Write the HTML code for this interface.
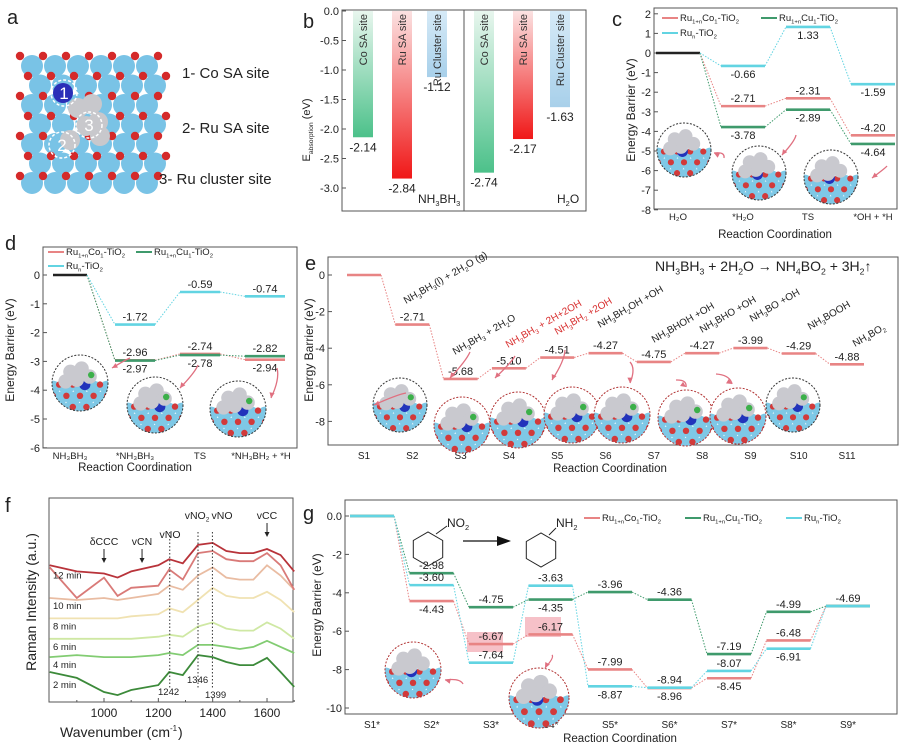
<!DOCTYPE html>
<html><head><meta charset="utf-8">
<style>
html,body{margin:0;padding:0;background:#fff;}
svg{display:block;font-family:"Liberation Sans",Arial,sans-serif;}
</style></head>
<body>
<svg id="fig" width="905" height="743" viewBox="0 0 905 743" xmlns="http://www.w3.org/2000/svg">
<defs></defs>
<g id="pa"></g>
<g id="pb"></g>
<g id="pc"></g>
<g id="pd"></g>
<g id="pe"></g>
<g id="pf"></g>
<g id="pg"></g>
</svg>
<script>
// ---------- DATA ----------
// panel b
const bSites = ["Co SA site","Ru SA site","Ru Cluster site"];
const bNH3BH3 = [-2.14,-2.84,-1.12];
const bH2O = [-2.74,-2.17,-1.63];
const bTicks = [0,-0.5,-1.0,-1.5,-2.0,-2.5,-3.0];
// panel c
const cCats = ["H\u2082O","*H\u2082O","TS","*OH + *H"];
const cCo = [-2.71,-2.31,-4.20];
const cCu = [-3.78,-2.89,-4.64];
const cRu = [-0.66,1.33,-1.59];
const cTicks = [2,1,0,-1,-2,-3,-4,-5,-6,-7,-8];
// panel d
const dCats = ["NH\u2083BH\u2083","*NH\u2083BH\u2083","TS","*NH\u2083BH\u2082 + *H"];
const dCo = [-2.96,-2.74,-2.94];
const dCu = [-2.97,-2.78,-2.82];
const dRu = [-1.72,-0.59,-0.74];
const dTicks = [0,-1,-2,-3,-4,-5,-6];
// panel e
const eCats = ["S1","S2","S3","S4","S5","S6","S7","S8","S9","S10","S11"];
const eVals = [0,-2.71,-5.68,-5.10,-4.51,-4.27,-4.75,-4.27,-3.99,-4.29,-4.88];
const eTicks = [0,-2,-4,-6,-8];
// panel f
const fWave = [800,900,1000,1050,1100,1200,1240,1290,1346,1400,1450,1500,1550,1600,1650,1700];
const f2 = [14.7,11.8,4.9,3.4,5.9,8.3,14.7,13.2,23,22,19.6,18.1,18.1,21.6,14.7,7.4];
const f4 = [22,23,22,22,22,23,24,23,28,28,27,26,27,30,27,24];
const f6 = [31,31,31,31,31,32,33,32,37,39,36,35,35,39,36,31];
const f8 = [41,41,41,41,42,43,46,44,50,56,52,51,51,54,50,44];
const f10 = [51,50,51,50,51,53,57,55,62,66,61,60,60,67,62,55];
const f12 = [66,51,61,52,56,57,65,60,73,74,70,69,69,73,67,55];
const f14 = [67,64,63,61,64,67,70,68,77,78,74,73,73,75,72,64];
const fTimes = ["2 min","4 min","6 min","8 min","10 min","12 min",""];
const fXTicks = [1000,1200,1400,1600];
// panel g
const gCats = ["S1*","S2*","S3*","S4*","S5*","S6*","S7*","S8*","S9*"];
const gCo = [0,-4.43,-6.67,-6.17,-7.99,-8.96,-8.45,-6.48,-4.69];
const gCu = [0,-2.98,-4.75,-4.35,-3.96,-4.36,-7.19,-4.99,-4.69];
const gRu = [0,-3.60,-7.64,-3.63,-8.87,-8.94,-8.07,-6.91,-4.69];
const gTicks = [0,-2,-4,-6,-8,-10];

// ---------- HELPERS ----------
const NS="http://www.w3.org/2000/svg";
function mk(parent,tag,attrs){const e=document.createElementNS(NS,tag);for(const k in attrs)e.setAttribute(k,attrs[k]);parent.appendChild(e);return e;}
function txt(parent,x,y,s,size,opts){opts=opts||{};
  const t=mk(parent,"text",{x:x,y:y,"font-size":size,fill:opts.fill||"#222","text-anchor":opts.anchor||"start"});
  if(opts.rot!==undefined)t.setAttribute("transform","rotate("+opts.rot+" "+x+" "+y+")");
  const parts=s.split(/(_\{[^}]*\})/);
  let sub=false;
  parts.forEach(p=>{if(!p)return;
    if(p.startsWith("_{")){const ts=mk(t,"tspan",{"font-size":size*0.62,dy:size*0.25});ts.textContent=p.slice(2,-1);sub=true;}
    else{const ts=mk(t,"tspan",sub?{dy:-size*0.25}:{});ts.textContent=p;sub=false;}
  });
  return t;}
const COL={co:"#e88484",cu:"#3f9a6c",ru:"#62d4e2",blk:"#222"};
let clipId=0;
function inset(parent,cx,cy,r,border,kind){
  const g=mk(parent,"g",{});
  
  
  const id="cl"+(clipId++);
  const cp=mk(document.querySelector("defs"),"clipPath",{id:id});
  mk(cp,"circle",{cx:cx,cy:cy,r:r});
  const inner=mk(g,"g",{"clip-path":"url(#"+id+")"});
  mk(inner,"rect",{x:cx-r,y:cy-r,width:2*r,height:2*r,fill:"#fff"});
  const s=r/35;
  for(let row=0;row<3;row++)for(let col=-3;col<=3;col++){
    mk(inner,"circle",{cx:cx+col*17*s+(row%2)*8*s,cy:cy+6*s+row*14*s,r:9*s,fill:"#7ec8e6"});
  }
  for(let row=0;row<3;row++)for(let col=-3;col<=3;col++){
    mk(inner,"circle",{cx:cx+col*17*s+(row%2?0:8*s),cy:cy+2*s+row*14*s,r:4*s,fill:"#d23a3a"});
  }
  mk(inner,"circle",{cx:cx-2*s+(kind%2?8*s:0),cy:cy+2*s,r:7*s,fill:"#2233bb"});
  const gp=[[-12,-14],[2,-18],[-4,-4],[12,-8],[-18,-2]];
  gp.forEach(p=>mk(inner,"circle",{cx:cx+p[0]*s,cy:cy+p[1]*s,r:9*s,fill:"#c9c9cf"}));
  if(kind>0)mk(inner,"circle",{cx:cx+(kind%3?14:-6)*s,cy:cy-10*s,r:4*s,fill:"#3cb04a"});
  mk(g,"circle",{cx:cx,cy:cy,r:r,fill:"none",stroke:border,"stroke-width":1,"stroke-dasharray":"2,1.5"});
  return g;}
function arrowLine(parent,x1,y1,x2,y2,col){
  mk(parent,"path",{d:"M"+x1+","+y1+" Q"+((x1+x2)/2+6)+","+((y1+y2)/2-4)+" "+x2+","+y2,stroke:col,"stroke-width":1.3,fill:"none"});
  const a=Math.atan2(y2-y1,x2-x1);
  const p1=[x2-6*Math.cos(a-0.45),y2-6*Math.sin(a-0.45)],p2=[x2-6*Math.cos(a+0.45),y2-6*Math.sin(a+0.45)];
  mk(parent,"path",{d:"M"+x2+","+y2+" L"+p1+" L"+p2+"Z",fill:col});
}
function box(parent,x,y,w,h){mk(parent,"rect",{x:x,y:y,width:w,height:h,fill:"none",stroke:"#555","stroke-width":1});}
function yAxis(parent,x,ticks,ys,fmt,size){
  ticks.forEach(t=>{const y=ys(t);mk(parent,"line",{x1:x,y1:y,x2:x+4,y2:y,stroke:"#555"});
    const tl=txt(parent,x-3,y+4,fmt(t),size,{anchor:"end"});
    
    });
}
function levels(parent,xs,ys,vals,col,hw,labels,lsize,startIdx){
  startIdx=startIdx||0;
  let prev=null;
  vals.forEach((v,i)=>{const idx=i+startIdx;const cx=xs(idx),y=ys(v);
    if(prev){mk(parent,"line",{x1:prev[0],y1:prev[1],x2:cx-hw,y2:y,stroke:col,"stroke-width":1,"stroke-dasharray":"1.5,1.5"});}
    const b=mk(parent,"line",{x1:cx-hw,y1:y,x2:cx+hw,y2:y,stroke:col,"stroke-width":2.6});
    
    
    if(labels&&labels[i]){const dy=labels[i]==="a"?-4:12;
      const l=txt(parent,cx,y+dy,v.toFixed(2),lsize,{anchor:"middle"});
      
      }
    prev=[cx+hw,y];});
  return prev;}
function legendEntry(parent,x,y,col,label,size){
  const g=mk(parent,"g",{});
  
  
  mk(g,"line",{x1:x,y1:y-3,x2:x+16,y2:y-3,stroke:col,"stroke-width":2});
  txt(g,x+18,y,label,size);}

// ---------- PANEL A ----------
(function(){const p=document.getElementById("pa");
  txt(p,7,24,"a",20);
  const cube=mk(p,"g",{});
  
  
  for(let r=0;r<7;r++)for(let c=0;c<6;c++){
    mk(cube,"circle",{cx:32+c*23+(r%2)*8,cy:66+r*19.5,r:11,fill:"#79c3e6"});}
  for(let r=0;r<7;r++)for(let c=0;c<7;c++){
    mk(cube,"circle",{cx:20+c*23+(r%2)*8,cy:56+r*20,r:4.2,fill:"#d42a2a"});}
  mk(cube,"circle",{cx:63,cy:93,r:10,fill:"#2a2fb8"});
  [[78,108],[92,104],[86,126],[98,122],[70,140],[100,136]].forEach(q=>mk(cube,"circle",{cx:q[0],cy:q[1],r:10,fill:"#c8c8cc"}));
  [[64,93,"1"],[89,125,"3"],[62,145,"2"]].forEach(q=>{mk(cube,"circle",{cx:q[0],cy:q[1],r:13,fill:"none",stroke:"#fff","stroke-width":1.5,"stroke-dasharray":"3,2"});
    txt(cube,q[0],q[1]+6,q[2],17,{anchor:"middle",fill:"#fff"});});
  [["1- Co SA site",182,78],["2- Ru SA site",182,133],["3- Ru cluster site",159,184]].forEach(q=>{
    const t=txt(p,q[1],q[2],q[0],15);});
})();

// ---------- PANEL B ----------
(function(){const p=document.getElementById("pb");
  const L=342,R=586,T=10,B=211;
  const ys=v=>11-v*59;
  txt(p,303,28,"b",20);
  box(p,L,T,R-L,B-T);
  mk(p,"line",{x1:464,y1:T,x2:464,y2:B,stroke:"#555"});
  yAxis(p,L,bTicks,ys,t=>t.toFixed(1),11);
  txt(p,310,130,"E_{absorption} (eV)",11,{rot:-90,anchor:"middle"});
  const grads=[["gG","#4cc18a","#e8f6ee"],["gR","#f01818","#fbe2e2"],["gB","#a8d0ea","#d6eaf7"]];
  const defs=document.querySelector("defs");
  grads.forEach(g=>{const lg=mk(defs,"linearGradient",{id:g[0],x1:0,y1:1,x2:0,y2:0});mk(lg,"stop",{offset:0,"stop-color":g[1]});mk(lg,"stop",{offset:1,"stop-color":g[2]});});
  const xsL=[363,402,437],xsR=[484,523,560];
  function draw(vals,xs,grp){vals.forEach((v,i)=>{
    const r=mk(p,"rect",{x:xs[i]-10,y:ys(0),width:20,height:ys(v)-ys(0),fill:"url(#"+grads[i][0]+")"});
    
    
    txt(p,xs[i]+4,14,bSites[i],11,{rot:-90,anchor:"end",fill:"#333"});
    txt(p,xs[i],ys(v)+14,v.toFixed(2),12,{anchor:"middle"});});}
  draw(bNH3BH3,xsL,"nh3bh3");draw(bH2O,xsR,"h2o");
  txt(p,418,203,"NH_{3}BH_{3}",12);
  txt(p,557,203,"H_{2}O",12);
})();

// ---------- PANEL C ----------
(function(){const p=document.getElementById("pc");
  const L=654,R=897,T=8,B=209;
  const ys=v=>53-v*19.6, xs=i=>678+i*65;
  txt(p,612,26,"c",20);
  box(p,L,T,R-L,B-T);
  yAxis(p,L,cTicks,ys,t=>String(t),11);
  txt(p,635,110,"Energy Barrier (eV)",12,{rot:-90,anchor:"middle"});
  cCats.forEach((c,i)=>{txt(p,xs(i),220,c,9.5,{anchor:"middle"});});
  txt(p,775,238,"Reaction Coordination",11.5,{anchor:"middle"});
  mk(p,"line",{x1:xs(0)-22,y1:ys(0),x2:xs(0)+22,y2:ys(0),stroke:COL.blk,"stroke-width":2.6});
  [[cCo,COL.co,["a","a","a"]],[cCu,COL.cu,["b","b","b"]],[cRu,COL.ru,["b","b","b"]]].forEach(s=>{
    mk(p,"line",{x1:xs(0)+22,y1:ys(0),x2:xs(1)-22,y2:ys(s[0][0]),stroke:s[1],"stroke-dasharray":"1.5,1.5"});
    levels(p,xs,ys,s[0],s[1],22,s[2],11,1);});
  legendEntry(p,662,21,COL.co,"Ru_{1+n}Co_{1}-TiO_{2}",9.5);
  legendEntry(p,761,21,COL.cu,"Ru_{1+n}Cu_{1}-TiO_{2}",9.5);
  legendEntry(p,662,36,COL.ru,"Ru_{n}-TiO_{2}",9.5);
  inset(p,684,150,27,"#333",0);inset(p,759,173,27,"#333",0);inset(p,831,177,27,"#333",0);
  arrowLine(p,724,158,714,153,"#e07080");arrowLine(p,796,135,782,155,"#e07080");arrowLine(p,887,166,872,178,"#e07080");
})();

// ---------- PANEL D ----------
(function(){const p=document.getElementById("pd");
  const L=43,R=297,T=247,B=448;
  const ys=v=>275-v*28.8, xs=i=>70+i*65;
  txt(p,5,250,"d",20);
  box(p,L,T,R-L,B-T);
  yAxis(p,L,dTicks,ys,t=>String(t),11);
  txt(p,14,350,"Energy Barrier (eV)",12,{rot:-90,anchor:"middle"});
  dCats.forEach((c,i)=>{txt(p,xs(i)+(i==3?-4:0),459,c,9.5,{anchor:"middle"});});
  txt(p,135,471,"Reaction Coordination",11.5,{anchor:"middle"});
  mk(p,"line",{x1:xs(0)-17,y1:ys(0),x2:xs(0)+17,y2:ys(0),stroke:COL.blk,"stroke-width":2.6});
  [[dCo,COL.co,["a","a","b"]],[dCu,COL.cu,["b","b","a"]],[dRu,COL.ru,["a","a","a"]]].forEach(s=>{
    mk(p,"line",{x1:xs(0)+17,y1:ys(0),x2:xs(1)-20,y2:ys(s[0][0]),stroke:s[1],"stroke-dasharray":"1.5,1.5"});
    levels(p,xs,ys,s[0],s[1],20,s[2],11,1);});
  legendEntry(p,48,255,COL.co,"Ru_{1+n}Co_{1}-TiO_{2}",9.5);
  legendEntry(p,136,255,COL.cu,"Ru_{1+n}Cu_{1}-TiO_{2}",9.5);
  legendEntry(p,48,269,COL.ru,"Ru_{n}-TiO_{2}",9.5);
  inset(p,80,383,28,"#333",1);inset(p,155,405,28,"#333",1);inset(p,238,409,28,"#333",1);
  arrowLine(p,130,358,112,368,"#e07080");arrowLine(p,198,365,180,388,"#e07080");arrowLine(p,277,368,271,398,"#e07080");
})();

// ---------- PANEL E ----------
(function(){const p=document.getElementById("pe");
  const L=328,R=898,T=257,B=445;
  const ys=v=>275-v*18.3, xs=i=>364+i*48.3;
  txt(p,305,270,"e",20);
  box(p,L,T,R-L,B-T);
  yAxis(p,L,eTicks,ys,t=>String(t),11);
  txt(p,313,350,"Energy Barrier (eV)",12,{rot:-90,anchor:"middle"});
  eCats.forEach((c,i)=>{txt(p,xs(i),459,c,10,{anchor:"middle"});});
  txt(p,610,472,"Reaction Coordination",11.5,{anchor:"middle"});
  levels(p,xs,ys,eVals,COL.co,17,eVals.map((v,i)=>i?"a":""),11,0);
  txt(p,655,271,"NH_{3}BH_{3} + 2H_{2}O \u2192 NH_{4}BO_{2} + 3H_{2}\u2191",14);
  const sp=[["NH_{3}BH_{3}(l) + 2H_{2}O (g)",406,304,"#222"],["NH_{3}BH_{3} + 2H_{2}O",455,355,"#222"],["NH_{3}BH_{3} + 2H+2OH",508,348,"#d83030"],
    ["NH_{3}BH_{2} +2OH",557,335,"#d83030"],["NH_{3}BH_{2}OH +OH",600,328,"#222"],["NH_{3}BHOH +OH",654,343,"#222"],
    ["NH_{3}BHO +OH",702,333,"#222"],["NH_{3}BO +OH",752,322,"#222"],["NH_{3}BOOH",810,330,"#222"],["NH_{4}BO_{2}",855,347,"#222"]];
  sp.forEach(s=>{const t=txt(p,s[1],s[2],s[0],10,{rot:-30,fill:s[3]});});
  const ins=[[400,405],[462,425],[518,420],[572,415],[622,415],[686,418],[738,416]];
  ins.forEach((q,i)=>inset(p,q[0],q[1],i?28:27,i>0?"#b03030":"#333",1));
  inset(p,793,405,27,"#333",1);
  arrowLine(p,406,393,374,405,"#e07080");arrowLine(p,470,352,450,378,"#e07080");arrowLine(p,515,356,495,378,"#e07080");
  arrowLine(p,565,350,552,380,"#e07080");arrowLine(p,630,362,630,383,"#e07080");arrowLine(p,676,380,686,387,"#e07080");arrowLine(p,716,374,732,384,"#e07080");
})();

// ---------- PANEL F ----------
(function(){const p=document.getElementById("pf");
  const L=49,R=293,T=498,B=702;
  const xs=w=>104+(w-1000)*0.2717, ys=v=>B-v*2.04;
  txt(p,5,512,"f",20);
  box(p,L,T,R-L,B-T);
  fXTicks.forEach(t=>{mk(p,"line",{x1:xs(t),y1:B,x2:xs(t),y2:B-4,stroke:"#555"});txt(p,xs(t),717,String(t),12,{anchor:"middle"});});
  [900,1100,1300,1500,1700].forEach(t=>mk(p,"line",{x1:xs(t),y1:B,x2:xs(t),y2:B-2,stroke:"#555"}));
  txt(p,170,737,"Wavenumber (cm",14,{anchor:"end"});
  txt(p,170,731,"-1",8);txt(p,178,737,")",14);
  txt(p,36,602,"Raman Intensity (a.u.)",14,{rot:-90,anchor:"middle"});
  const series=[[f2,"#3c8a3a"],[f4,"#82cc72"],[f6,"#cfe8a4"],[f8,"#f0e2b2"],[f10,"#e9bca2"],[f12,"#d97a78"],[f14,"#b8333a"]];
  series.forEach((s,k)=>{const d=s[0].map((v,i)=>(i?"L":"M")+xs(fWave[i]).toFixed(1)+","+ys(v).toFixed(1)).join(" ");
    const path=mk(p,"path",{d:d,fill:"none",stroke:s[1],"stroke-width":1.8});
    
    
    if(fTimes[k])txt(p,53,ys(s[0][0])+(k?11:16),fTimes[k],9.5);});
  [1242,1346,1399].forEach(w=>mk(p,"line",{x1:xs(w),y1:532,x2:xs(w),y2:688,stroke:"#333","stroke-dasharray":"1.5,2"}));
  txt(p,158,695,"1242",9.5);txt(p,187,683,"1346",9.5);txt(p,205,698,"1399",9.5);
  [["\u03b4CCC",104,545,1000],["vCN",142,545,1140]].forEach(a=>{txt(p,a[1],a[2],a[0],10.5,{anchor:"middle"});
    mk(p,"line",{x1:xs(a[3]),y1:a[2]+4,x2:xs(a[3]),y2:a[2]+16,stroke:"#222"});mk(p,"path",{d:"M"+(xs(a[3])-2.5)+","+(a[2]+13)+" l2.5,5 l2.5,-5z",fill:"#222"});});
  txt(p,170,538,"vNO",10.5,{anchor:"middle"});
  txt(p,197,519,"vNO_{2}",10.5,{anchor:"middle"});
  txt(p,222,519,"vNO",10.5,{anchor:"middle"});
  txt(p,267,519,"vCC",10.5,{anchor:"middle"});
  mk(p,"line",{x1:xs(1600),y1:523,x2:xs(1600),y2:535,stroke:"#222"});mk(p,"path",{d:"M"+(xs(1600)-2.5)+",532 l2.5,5 l2.5,-5z",fill:"#222"});
})();

// ---------- PANEL G ----------
(function(){const p=document.getElementById("pg");
  const L=345,R=897,T=500,B=714;
  const ys=v=>516-v*19.2, xs=i=>372+i*59.5;
  txt(p,303,520,"g",20);
  box(p,L,T,R-L,B-T);
  yAxis(p,L,gTicks,ys,t=>t===0?"0.0":String(t),11);
  txt(p,321,605,"Energy Barrier (eV)",12,{rot:-90,anchor:"middle"});
  gCats.forEach((c,i)=>{txt(p,xs(i),728,c,10,{anchor:"middle"});});
  txt(p,620,742,"Reaction Coordination",11.5,{anchor:"middle"});
  mk(p,"rect",{x:467,y:632,width:36,height:20,fill:"#f6c1c8"});
  mk(p,"rect",{x:525,y:617,width:36,height:20,fill:"#f6c1c8"});
  levels(p,xs,ys,gCo,COL.co,22,["","b","a","a","a","b","b","a","a"],11,0);
  levels(p,xs,ys,gCu,COL.cu,22,["","a","a","b","a","a","a","a",""],11,0);
  levels(p,xs,ys,gRu,COL.ru,22,["","a","a","a","b","a","a","b",""],11,0);
  function hex(cx,cy,r){let d="";for(let k=0;k<6;k++){const a=Math.PI/6+k*Math.PI/3;d+=(k?"L":"M")+(cx+r*Math.cos(a)).toFixed(1)+","+(cy+r*Math.sin(a)).toFixed(1);}
    mk(p,"path",{d:d+"Z",fill:"none",stroke:"#222","stroke-width":1});}
  hex(428,549,17);hex(541,550,17);
  mk(p,"line",{x1:436,y1:534,x2:447,y2:526,stroke:"#222"});txt(p,447,527,"NO_{2}",12);
  mk(p,"line",{x1:549,y1:535,x2:556,y2:528,stroke:"#222"});txt(p,556,527,"NH_{2}",12);
  mk(p,"line",{x1:463,y1:541,x2:500,y2:541,stroke:"#111","stroke-width":1.2});mk(p,"path",{d:"M511,541 L497,536 L497,546Z",fill:"#111"});
  legendEntry(p,584,521,COL.co,"Ru_{1+n}Co_{1}-TiO_{2}",9.5);
  legendEntry(p,685,521,COL.cu,"Ru_{1+n}Cu_{1}-TiO_{2}",9.5);
  legendEntry(p,786,521,COL.ru,"Ru_{n}-TiO_{2}",9.5);
  inset(p,413,670,28,"#b03030",0);inset(p,539,698,30,"#b03030",0);
  arrowLine(p,463,684,445,680,"#e07080");arrowLine(p,552,655,545,668,"#e07080");
})();
</script>
</body></html>
